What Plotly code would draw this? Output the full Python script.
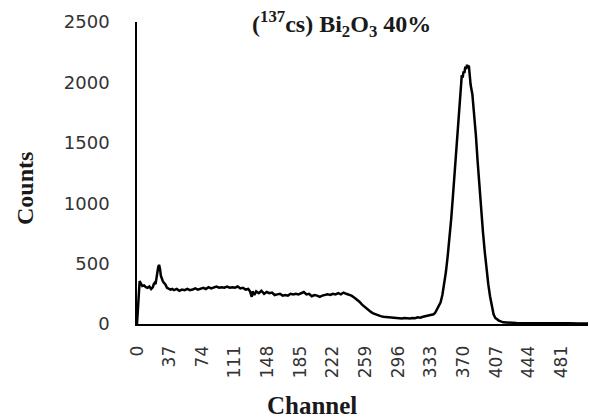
import plotly.graph_objects as go

channels = [0, 1, 2, 3, 4, 5, 6, 8, 10, 12, 14, 16, 18, 19, 20, 21, 22, 23, 24, 25, 26, 27, 28, 29, 30,
            32, 34, 36, 38, 40, 42, 45, 48, 51, 54, 57, 60, 63, 66, 69, 72, 75, 78, 81, 84, 87, 90,
            93, 96, 99, 102, 105, 108, 111, 114, 117, 120, 123, 126, 128, 130, 131, 133, 135, 138,
            141, 144, 147, 150, 153, 156, 159, 162, 165, 168, 171, 174, 177, 180, 183, 186, 189,
            192, 195, 198, 201, 204, 207, 210, 213, 216, 219, 222, 225, 228, 231, 234, 237, 240,
            243, 246, 249, 252, 255, 258, 261, 264, 267, 270, 273, 276, 279, 282, 285, 288, 291,
            294, 297, 300, 303, 306, 309, 312, 315, 318, 321, 324, 327, 330, 333, 336, 338, 340,
            342, 344, 346, 348, 350, 352, 354, 356, 358, 360, 362, 364, 366, 368, 369, 370, 371,
            372, 373, 374, 375, 376, 377, 378, 380, 382, 384, 386, 388, 390, 392, 394, 396, 398,
            400, 402, 404, 406, 410, 415, 420, 430, 440, 450, 460, 470, 480, 490, 500, 511]
counts = [0, 150, 330, 355, 340, 325, 315, 320, 305, 300, 310, 290, 305, 330, 340, 330, 380, 440,
          470, 490, 460, 400, 370, 360, 345,
          330, 300, 295, 285, 290, 280, 290, 275, 285, 280, 290, 280, 285, 295, 285, 290, 300,
          290, 305, 295, 300, 310,
          300, 305, 300, 310, 300, 305, 300, 310, 295, 300, 285, 290, 270, 225, 270, 240, 270, 255,
          275, 250, 265, 255, 260, 240, 245, 250, 235, 240, 235, 250, 245, 250, 245, 255, 265,
          245, 250, 230, 240, 235, 225, 235, 240, 245, 240, 250, 245, 255, 245, 260, 250, 245,
          235, 220, 205, 185, 160, 140, 120, 105, 90, 80, 70, 65, 60, 58, 55, 52, 55,
          48, 50, 45, 50, 48, 45, 50, 48, 55, 52, 60, 65, 70, 75, 80, 95, 120,
          145, 180, 240, 320, 430, 560, 700, 870, 1060, 1260, 1480, 1720, 1930, 2060, 2040, 2090,
          2080,
          2130, 2110, 2145, 2125, 2140, 2060, 1980, 1900, 1750, 1560, 1340, 1120, 920, 760, 600,
          450, 330, 230,
          140, 80, 50, 28, 14, 10, 8, 7, 8, 6, 7, 5, 6, 5, 4, 3]

x_ticks = list(range(0, 482, 37))
y_ticks = [0, 500, 1000, 1500, 2000, 2500]

fig = go.Figure()
fig.add_trace(go.Scatter(x=channels, y=counts, mode="lines",
                         line=dict(color="black", width=2.5), showlegend=False))

fig.update_layout(
    width=589, height=418,
    margin=dict(l=137, r=1, t=22, b=94),
    paper_bgcolor="white", plot_bgcolor="white",
    xaxis=dict(range=[0, 511], tickvals=x_ticks, ticktext=[str(v) for v in x_ticks],
               tickangle=-90, showgrid=False, zeroline=False, showline=True,
               linecolor="black", linewidth=2, ticks="outside", ticklen=13,
               tickcolor="rgba(0,0,0,0)",
               tickfont=dict(family="DejaVu Sans", size=17, color="#333333")),
    yaxis=dict(range=[0, 2500], tickvals=y_ticks, showgrid=False, zeroline=False,
               showline=True, linecolor="black", linewidth=1.5, ticks="outside",
               ticklen=22, tickcolor="rgba(0,0,0,0)",
               tickfont=dict(family="DejaVu Sans", size=18, color="#333333")),
    annotations=[
        dict(text="<b>(<sup>137</sup>cs) Bi<sub>2</sub>O<sub>3</sub> 40%</b>",
             x=341, y=24, xref="paper", yref="paper", showarrow=False,
             font=dict(family="Liberation Serif", size=24, color="#1a1a1a")),
        dict(text="<b>Counts</b>", x=25, y=189, textangle=-90, showarrow=False,
             font=dict(family="Liberation Serif", size=24, color="#1a1a1a")),
        dict(text="<b>Channel</b>", x=312, y=405, showarrow=False,
             font=dict(family="Liberation Serif", size=25, color="#1a1a1a")),
    ],
)

# convert pixel positions of annotations to paper coordinates
L, R, T, B = 137, 1, 22, 94
pw, ph = 589 - L - R, 418 - T - B
for a in fig.layout.annotations:
    a.update(xref="paper", yref="paper", x=(a.x - L) / pw, y=1 - (a.y - T) / ph,
             xanchor="center", yanchor="middle")

fig.write_html("out.html")
